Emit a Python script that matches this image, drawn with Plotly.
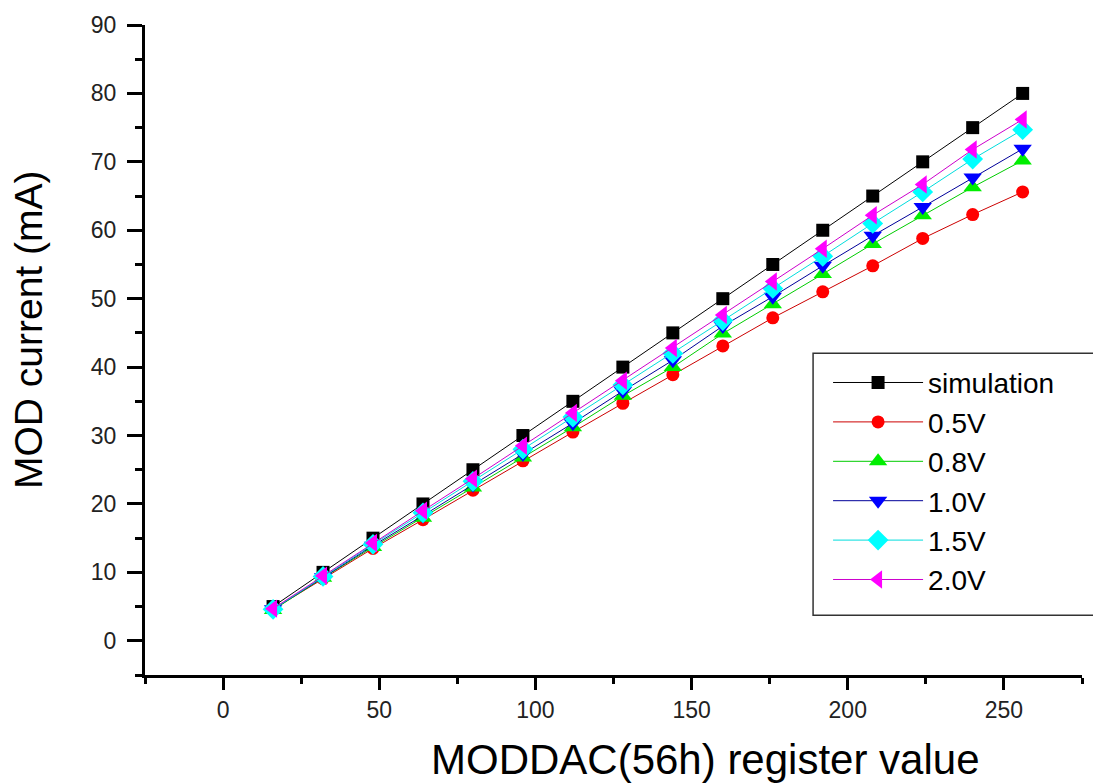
import plotly.graph_objects as go

# MODDAC register settings (x) and measured modulation current (mA)
register = [16, 32, 48, 64, 80, 96, 112, 128, 144, 160, 176, 192, 208, 224, 240, 256]

simulation = [5, 10, 15, 20, 25, 30, 35, 40, 45, 50, 55, 60, 65, 70, 75, 80]
v_0_5 = [4.6, 9.1, 13.5, 17.7, 22.0, 26.3, 30.5, 34.7, 38.9, 43.1, 47.2, 51.0, 54.8, 58.8, 62.3, 65.6]
v_0_8 = [4.5, 9.2, 13.7, 18.0, 22.4, 26.8, 31.2, 35.8, 40.0, 44.9, 49.2, 53.6, 58.0, 62.2, 66.3, 70.2]
v_1_0 = [4.6, 9.3, 13.9, 18.3, 22.8, 27.3, 31.8, 36.5, 41.0, 46.0, 50.3, 54.8, 59.2, 63.4, 67.7, 71.9]
v_1_5 = [4.6, 9.4, 14.1, 18.7, 23.3, 28.0, 32.7, 37.4, 42.0, 46.8, 51.5, 56.2, 61.0, 65.6, 70.4, 74.7]
v_2_0 = [4.7, 9.5, 14.3, 19.0, 23.7, 28.5, 33.3, 38.0, 42.8, 47.6, 52.5, 57.3, 62.2, 66.7, 71.8, 76.2]

series_names = ["simulation", "0.5V", "0.8V", "1.0V", "1.5V", "2.0V"]
series_values = [simulation, v_0_5, v_0_8, v_1_0, v_1_5, v_2_0]

styles = [
    dict(color="#000000", line="#000000", symbol="square", size=13),
    dict(color="#ff0000", line="#cc0000", symbol="circle", size=13),
    dict(color="#00ee00", line="#00cc00", symbol="triangle-up", size=16),
    dict(color="#0000ff", line="#000099", symbol="triangle-down", size=16),
    dict(color="#00ffff", line="#00dddd", symbol="diamond", size=16),
    dict(color="#ff00ff", line="#cc00cc", symbol="triangle-left", size=16),
]

fig = go.Figure()
for name, values, st in zip(series_names, series_values, styles):
    fig.add_trace(go.Scatter(
        x=register, y=values, name=name, mode="lines+markers",
        line=dict(color=st["line"], width=1),
        marker=dict(color=st["color"], symbol=st["symbol"], size=st["size"],
                    line=dict(width=0)),
    ))

tick_font = dict(family="Liberation Sans, Arial, sans-serif", size=23, color="#222222")

fig.update_layout(
    width=1093, height=784,
    margin=dict(l=145, r=11, t=25, b=109),
    paper_bgcolor="white", plot_bgcolor="white",
    showlegend=True,
    legend=dict(
        x=0.729, y=0.488, xanchor="left", yanchor="top",
        bgcolor="rgba(0,0,0,0)", borderwidth=0,
        font=dict(family="Liberation Sans, Arial, sans-serif", size=28, color="#000000"),
        itemwidth=90, tracegroupgap=0,
    ),
    xaxis=dict(
        range=[-25, 275], tick0=0, dtick=50,
        showline=True, linewidth=3, linecolor="black", mirror=False,
        ticks="outside", ticklen=12, tickwidth=3, tickcolor="black",
        minor=dict(dtick=25, tick0=0, ticks="outside", ticklen=6, tickwidth=3, tickcolor="black"),
        showgrid=False, zeroline=False, tickfont=tick_font, ticklabelstandoff=0,
    ),
    yaxis=dict(
        range=[-5, 90], tick0=0, dtick=10,
        showline=True, linewidth=3, linecolor="black", mirror=False,
        ticks="outside", ticklen=15, tickwidth=3, tickcolor="black",
        minor=dict(dtick=5, tick0=0, ticks="outside", ticklen=7, tickwidth=3, tickcolor="black"),
        showgrid=False, zeroline=False, tickfont=tick_font, ticklabelstandoff=6,
    ),
    shapes=[
        dict(type="rect", xref="paper", yref="paper",
             x0=0.713, x1=1.05, y0=0.092, y1=0.495,
             line=dict(color="#333333", width=1.5), fillcolor="rgba(0,0,0,0)"),
    ],
    annotations=[
        dict(text="MODDAC(56h) register value", xref="paper", yref="paper",
             x=(705 - 145) / 937, y=-(759 - 675) / 650, xanchor="center", yanchor="middle",
             showarrow=False,
             font=dict(family="Liberation Sans, Arial, sans-serif", size=42, color="#000000")),
        dict(text="MOD current (mA)", xref="paper", yref="paper",
             x=-(145 - 28) / 937, y=(675 - 330) / 650, xanchor="center", yanchor="middle",
             textangle=-90, showarrow=False,
             font=dict(family="Liberation Sans, Arial, sans-serif", size=39, color="#000000")),
    ],
)

fig.write_html("out.html")
